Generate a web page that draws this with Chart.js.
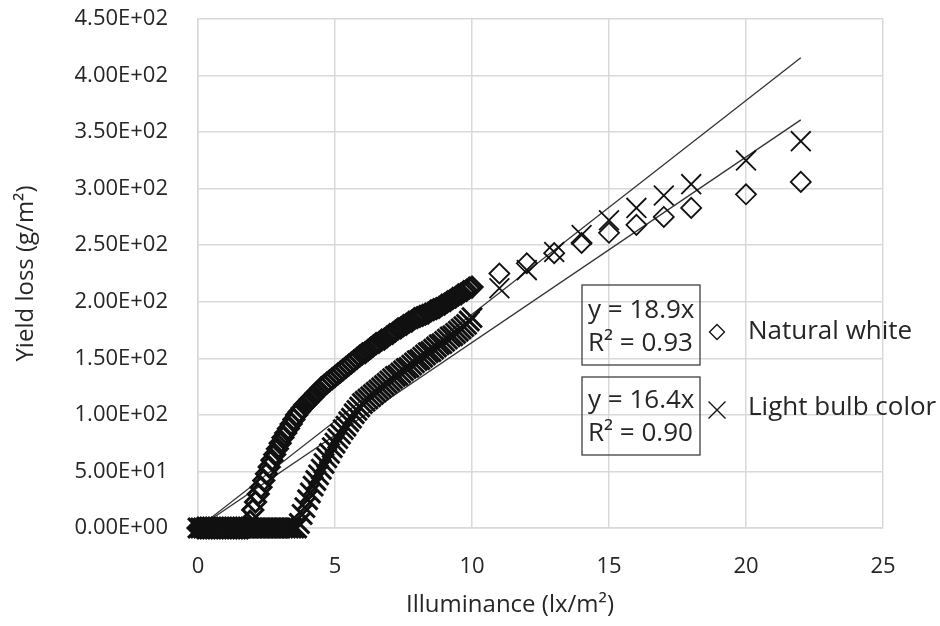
<!DOCTYPE html>
<html>
<head>
<meta charset="utf-8">
<script src="https://cdn.jsdelivr.net/npm/chart.js@4"></script>
<style>
  html, body { margin: 0; padding: 0; background: #fff; }
  #wrap { width: 940px; height: 626px; }
</style>
</head>
<body>
<div id="wrap"><canvas id="chart" width="940" height="626"></canvas></div>
<script>
// Natural white (diamonds)
const whiteX = [
  0, 0.1, 0.2, 0.3, 0.4, 0.5, 0.6, 0.7, 0.8, 0.9, 1.0, 1.1, 1.2, 1.3, 1.4, 1.5, 1.6, 1.7, 1.8, 1.9,
  2.0, 2.1, 2.2, 2.3, 2.4, 2.5, 2.6, 2.7, 2.8, 2.9, 3.0, 3.1, 3.2, 3.3, 3.4, 3.5, 3.6, 3.7, 3.8, 3.9,
  4.0, 4.1, 4.2, 4.3, 4.4, 4.5, 4.6, 4.7, 4.8, 4.9, 5.0, 5.1, 5.2, 5.3, 5.4, 5.5, 5.6, 5.7, 5.8, 5.9,
  6.0, 6.1, 6.2, 6.3, 6.4, 6.5, 6.6, 6.7, 6.8, 6.9, 7.0, 7.1, 7.2, 7.3, 7.4, 7.5, 7.6, 7.7, 7.8, 7.9,
  8.0, 8.1, 8.2, 8.3, 8.4, 8.5, 8.6, 8.7, 8.8, 8.9, 9.0, 9.1, 9.2, 9.3, 9.4, 9.5, 9.6, 9.7, 9.8, 9.9, 10.0,
  11, 12, 13, 14, 15, 16, 17, 18, 20, 22
];
const whiteY = [
  0, 0, 0, 0, 0, 0, 0, 0, 0, 0, 0, 0, 0, 0, 0, 0, 0, 0, 0, 6,
  16, 23, 30, 36, 42, 48, 54, 60, 65, 70, 75, 80, 84, 88, 92, 96, 100, 103, 106, 109,
  111, 114, 116, 119, 121, 124, 126, 128, 130, 132, 134, 136, 138, 140, 142, 144, 146, 148, 150, 152,
  154, 155, 157, 159, 161, 163, 164, 166, 167, 169, 171, 172, 174, 176, 177, 179, 180, 182, 183, 185,
  186, 187, 188, 189, 190, 192, 193, 194, 195, 197, 198, 200, 201, 203, 204, 206, 207, 209, 210, 212, 213,
  225, 234, 243, 252, 261, 268, 275, 283, 295, 306
];

// Light bulb color (crosses)
const bulbX = [
  0, 0.1, 0.2, 0.3, 0.4, 0.5, 0.6, 0.7, 0.8, 0.9, 1.0, 1.1, 1.2, 1.3, 1.4, 1.5, 1.6, 1.7, 1.8, 1.9,
  2.0, 2.1, 2.2, 2.3, 2.4, 2.5, 2.6, 2.7, 2.8, 2.9, 3.0, 3.1, 3.2, 3.3, 3.4, 3.5, 3.6, 3.7, 3.8, 3.9,
  4.0, 4.1, 4.2, 4.3, 4.4, 4.5, 4.6, 4.7, 4.8, 4.9, 5.0, 5.1, 5.2, 5.3, 5.4, 5.5, 5.6, 5.7, 5.8, 5.9,
  6.0, 6.1, 6.2, 6.3, 6.4, 6.5, 6.6, 6.7, 6.8, 6.9, 7.0, 7.1, 7.2, 7.3, 7.4, 7.5, 7.6, 7.7, 7.8, 7.9,
  8.0, 8.1, 8.2, 8.3, 8.4, 8.5, 8.6, 8.7, 8.8, 8.9, 9.0, 9.1, 9.2, 9.3, 9.4, 9.5, 9.6, 9.7, 9.8, 9.9, 10.0,
  11, 12, 13, 14, 15, 16, 17, 18, 20, 22
];
const bulbY = [
  0, 0, 0, 0, 0, 0, 0, 0, 0, 0, 0, 0, 0, 0, 0, 0, 0, 0, 0, 0,
  0, 0, 0, 0, 0, 0, 0, 0, 0, 0, 0, 0, 0, 0, 0, 0, 0, 4, 12, 18,
  25, 31, 37, 42, 47, 52, 57, 62, 66, 71, 75, 79, 83, 87, 90, 94, 97, 101, 104, 107,
  110, 112, 114, 116, 118, 120, 122, 124, 126, 128, 130, 132, 134, 135, 137, 139, 141, 142, 144, 146,
  148, 149, 151, 153, 155, 156, 158, 160, 162, 163, 165, 167, 169, 170, 172, 174, 176, 178, 180, 183, 186,
  212, 228, 244, 259, 272, 283, 294, 304, 325, 342
];

// linear trendlines (through origin) end points
const trendX = [0, 22];
const whiteTrendY = [0, 415.8];
const bulbTrendY = [0, 360.8];

const whiteEq = ['y = 18.9x', 'R² = 0.93'];
const bulbEq = ['y = 16.4x', 'R² = 0.90'];
const seriesNames = ['Natural white', 'Light bulb color'];

const ink = '#111';
const textColor = '#262626';
const gridColor = '#d9d9d9';
const font = "'Open Sans', sans-serif";

Chart.defaults.font.family = font;
Chart.defaults.color = textColor;

const pairs = (xs, ys) => xs.map((x, i) => ({ x, y: ys[i] }));
// the densely sampled part reads heavier, as in the source figure
const markerWidth = (c) => (c.raw && c.raw.x <= 10 ? 3 : 1.8);

function sci(v) {
  const [m, e] = Number(v).toExponential(2).split('e');
  const n = parseInt(e, 10);
  return m + 'E' + (n < 0 ? '-' : '+') + String(Math.abs(n)).padStart(2, '0');
}

// equation boxes, legend and x title
const notes = {
  id: 'notes',
  afterDraw(chart) {
    const ctx = chart.ctx;
    ctx.save();
    ctx.strokeStyle = '#404040';
    ctx.lineWidth = 1.3;
    ctx.strokeRect(582, 285, 118, 80);
    ctx.strokeRect(582, 377, 118, 78);

    ctx.fillStyle = textColor;
    ctx.textBaseline = 'middle';
    ctx.textAlign = 'left';
    ctx.font = `26px ${font}`;
    ctx.fillText(whiteEq[0], 588, 311);
    ctx.fillText(whiteEq[1], 588, 344);
    ctx.fillText(bulbEq[0], 588, 401);
    ctx.fillText(bulbEq[1], 588, 434);

    ctx.fillText(seriesNames[0], 748, 332);
    ctx.fillText(seriesNames[1], 748, 408);

    ctx.strokeStyle = ink;
    ctx.fillStyle = 'rgba(0,0,0,0)';
    Chart.helpers.drawPoint(ctx, { pointStyle: 'rectRot', radius: 7.5, rotation: 0, borderWidth: 1.5 }, 717, 332);
    Chart.helpers.drawPoint(ctx, { pointStyle: 'crossRot', radius: 12, rotation: 0, borderWidth: 1.5 }, 717, 410);

    ctx.fillStyle = textColor;
    ctx.textAlign = 'center';
    ctx.font = `24px ${font}`;
    ctx.fillText('Illuminance (lx/m²)', 510, 605);
    ctx.restore();
  }
};

new Chart(document.getElementById('chart'), {
  type: 'scatter',
  data: {
    datasets: [
      {
        label: seriesNames[0],
        data: pairs(whiteX, whiteY),
        pointStyle: 'rectRot',
        pointRadius: 10,
        pointBorderWidth: markerWidth,
        borderColor: ink,
        backgroundColor: 'rgba(0,0,0,0)',
        clip: false
      },
      {
        label: seriesNames[1],
        data: pairs(bulbX, bulbY),
        pointStyle: 'crossRot',
        pointRadius: 14,
        pointBorderWidth: markerWidth,
        borderColor: ink,
        backgroundColor: ink,
        clip: false
      },
      {
        label: 'Linear (' + seriesNames[0] + ')',
        data: pairs(trendX, whiteTrendY),
        showLine: true,
        pointRadius: 0,
        borderWidth: 1.3,
        borderColor: '#333'
      },
      {
        label: 'Linear (' + seriesNames[1] + ')',
        data: pairs(trendX, bulbTrendY),
        showLine: true,
        pointRadius: 0,
        borderWidth: 1.3,
        borderColor: '#333'
      }
    ]
  },
  options: {
    responsive: false,
    animation: false,
    layout: { padding: { top: 19, right: 57, left: 0, bottom: 0 } },
    plugins: {
      legend: { display: false },
      tooltip: { enabled: false }
    },
    scales: {
      x: {
        type: 'linear',
        min: 0,
        max: 25,
        ticks: { stepSize: 5, padding: 26, font: { size: 22 } },
        grid: { color: gridColor, lineWidth: 1.5, drawTicks: false },
        border: { color: gridColor, width: 1.5 },
        afterFit(scale) { scale.height = 98; scale.paddingLeft = 0; }
      },
      y: {
        type: 'linear',
        min: 0,
        max: 450,
        ticks: { stepSize: 50, padding: 30, font: { size: 22 }, callback: (v) => sci(v) },
        grid: { color: gridColor, lineWidth: 1.5, drawTicks: false },
        border: { color: gridColor, width: 1.5 },
        title: {
          display: true,
          text: 'Yield loss (g/m²)',
          font: { size: 24 },
          padding: { top: 12, bottom: 0 }
        },
        afterFit(scale) {
          scale.width = 198;
          scale.paddingTop = 0;
          scale.paddingBottom = 0;
        }
      }
    }
  },
  plugins: [notes]
});
</script>
</body>
</html>
